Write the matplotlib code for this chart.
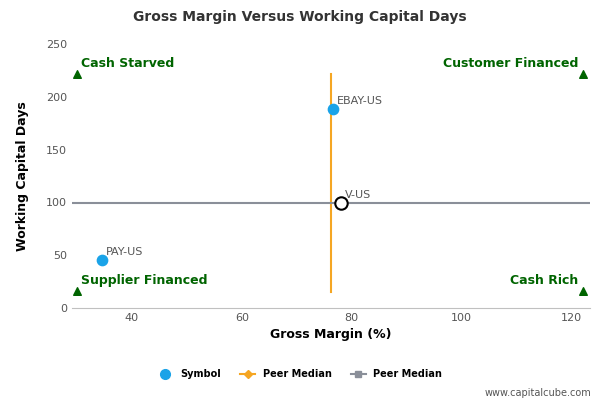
import matplotlib.pyplot as plt
from matplotlib.lines import Line2D

symbols = ["EBAY-US", "PAY-US"]
margin = [76.5, 34.5]
wc_days = [188, 45]
peer = ("V-US", 78.0, 99)
med_x = 76.3
med_y = 99
quadrants = [("Cash Starved", 30, 222, "left"), ("Customer Financed", 122, 222, "right"),
             ("Supplier Financed", 30, 16, "left"), ("Cash Rich", 122, 16, "right")]

fig = plt.figure(figsize=(6, 4), dpi=100)
ax = fig.add_axes([0.12, 0.23, 0.863, 0.66])
green = "#006400"

ax.plot([med_x, med_x], [15, 222], color="#f5a623", lw=1.5, zorder=2)
ax.axhline(med_y, color="#8a8f99", lw=1.5, zorder=2)
ax.scatter(margin, wc_days, s=55, color="#1aa3e8", zorder=3)
for s, x, y in zip(symbols, margin, wc_days):
    ax.annotate(s, (x, y), xytext=(3, 4), textcoords="offset points", fontsize=8, color="#555555")
ax.scatter([peer[1]], [peer[2]], s=80, facecolor="white", edgecolor="black", lw=1.5, zorder=4)
ax.annotate(peer[0], (peer[1], peer[2]), xytext=(3, 4), textcoords="offset points", fontsize=8, color="#555555")

for name, x, y, ha in quadrants:
    ax.scatter([x], [y], marker="^", s=30, color=green, zorder=3)
    dx = 3 if ha == "left" else -3
    ax.annotate(name, (x, y), xytext=(dx, 5), textcoords="offset points", ha=ha,
                fontsize=9, fontweight="bold", color=green)

ax.set_xlim(29.1, 123.3)
ax.set_ylim(0, 250)
ax.set_xticks([40, 60, 80, 100, 120])
ax.set_yticks([0, 50, 100, 150, 200, 250])
ax.tick_params(labelsize=8, colors="#555555", length=0)
for sp in ["top", "right", "left"]:
    ax.spines[sp].set_visible(False)
ax.spines["bottom"].set_color("#c0c0c0")
ax.set_xlabel("Gross Margin (%)", fontsize=9, fontweight="bold")
ax.set_ylabel("Working Capital Days", fontsize=9, fontweight="bold", labelpad=12)
fig.suptitle("Gross Margin Versus Working Capital Days", x=0.5, y=0.975, fontsize=10,
             fontweight="bold", color="#333333")

handles = [Line2D([], [], marker="o", ls="", color="#1aa3e8", markersize=7),
           Line2D([], [], marker="D", color="#f5a623", markersize=4),
           Line2D([], [], marker="s", color="#8a8f99", markersize=5)]
fig.legend(handles, ["Symbol", "Peer Median", "Peer Median"], loc="lower center",
           bbox_to_anchor=(0.5, 0.03), ncol=3, frameon=False,
           prop={"size": 7, "weight": "bold"}, handlelength=1.5)
fig.text(0.985, 0.01, "www.capitalcube.com", ha="right", fontsize=7, color="#555555")
fig.savefig("out.png", dpi=100)
